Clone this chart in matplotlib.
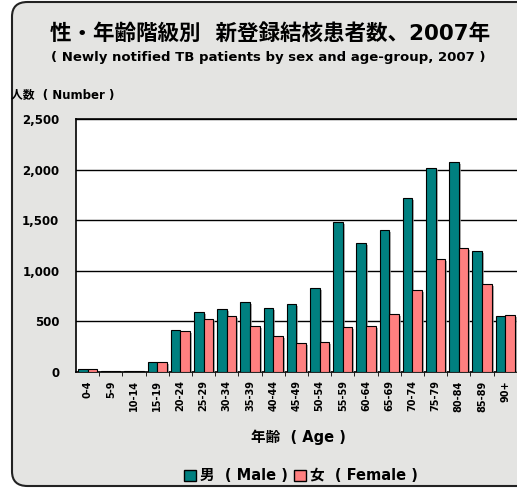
import matplotlib.pyplot as plt
import matplotlib.patheffects as pe
from matplotlib.patches import FancyBboxPatch, Patch
from matplotlib.ticker import FuncFormatter, FixedLocator

plt.rcParams['font.family'] = ['DejaVu Sans', 'Noto Sans CJK JP']

ages = ["0-4", "5-9", "10-14", "15-19", "20-24", "25-29", "30-34", "35-39", "40-44", "45-49",
        "50-54", "55-59", "60-64", "65-69", "70-74", "75-79", "80-84", "85-89", "90+"]
male = [27, 5, 5, 102, 415, 590, 619, 689, 636, 672, 827, 1479, 1271, 1400, 1719, 2016, 2072, 1193, 557]
female = [25, 5, 12, 100, 402, 527, 557, 455, 352, 283, 293, 445, 455, 573, 807, 1117, 1222, 870, 563]

male_color = "#008080"
female_color = "#FF8080"
bg = "#E4E4E2"

W, H = 517, 488
fig = plt.figure(figsize=(W / 100, H / 100), dpi=100)
fig.patch.set_facecolor("white")

# rounded frame with grey background
frame = FancyBboxPatch((12 / W, 2 / H), 520 / W, 484 / H,
                       boxstyle="round,pad=0,rounding_size=0.03",
                       transform=fig.transFigure, facecolor=bg, edgecolor="#222222",
                       linewidth=1.5, zorder=-5)
fig.patches.append(frame)

ax = fig.add_axes([76 / W, (H - 372) / H, 440.8 / W, 253 / H])
ax.set_facecolor("white")

x = list(range(len(ages)))
bw = 0.41
shadow = [pe.SimplePatchShadow(offset=(1.5, -1.5), shadow_rgbFace="#999999", alpha=0.8), pe.Normal()]
b1 = ax.bar([i - bw / 2 for i in x], male, width=bw, color=male_color, edgecolor="black", linewidth=0.8, zorder=3)
b2 = ax.bar([i + bw / 2 for i in x], female, width=bw, color=female_color, edgecolor="black", linewidth=0.8, zorder=3)
for b in list(b1) + list(b2):
    b.set_path_effects(shadow)

ax.set_xlim(-0.5, len(ages) - 0.5)
ax.set_ylim(0, 2500)
ax.set_yticks([0, 500, 1000, 1500, 2000, 2500])
ax.yaxis.set_major_formatter(FuncFormatter(lambda v, p: f"{int(v):,}"))
ax.yaxis.grid(True, color="black", linewidth=1.0, zorder=1)
ax.tick_params(axis="y", length=0, pad=12, labelsize=8.5)
for lab in ax.get_yticklabels():
    lab.set_fontweight("bold")

ax.set_xticks(x)
ax.set_xticklabels(ages, rotation=90, fontsize=7, fontweight="bold")
ax.tick_params(axis="x", which="major", length=0, pad=6)
ax.xaxis.set_minor_locator(FixedLocator([i + 0.5 for i in x[:-1]]))
ax.tick_params(axis="x", which="minor", length=3, direction="out", color="black")

for s in ["left", "top", "bottom"]:
    ax.spines[s].set_color("black")
    ax.spines[s].set_linewidth(1.2)
ax.spines["right"].set_visible(False)

fig.text(270 / W, 1 - 33 / H, "性・年齢階級別  新登録結核患者数、2007年",
         ha="center", va="center", fontsize=15.5, fontweight="bold")
fig.text(268 / W, 1 - 57 / H, "( Newly notified TB patients by sex and age-group, 2007 )",
         ha="center", va="center", fontsize=9.5, fontweight="bold")
fig.text(11 / W, 1 - 95 / H, "人数  ( Number )", ha="left", va="center", fontsize=8.5, fontweight="bold")
fig.text(298 / W, 1 - 437 / H, "年齢  ( Age )", ha="center", va="center", fontsize=10.5, fontweight="bold")

handles = [Patch(facecolor=male_color, edgecolor="black", label="男  ( Male )"),
           Patch(facecolor=female_color, edgecolor="black", label="女  ( Female )")]
leg = fig.legend(handles=handles, loc="center", bbox_to_anchor=(301 / W, 1 - 476 / H), ncol=2,
                 frameon=False, handlelength=0.8, handleheight=0.8, handletextpad=0.3,
                 columnspacing=0.4, prop={"size": 10.5, "weight": "bold"})

fig.savefig("out.png", dpi=100, facecolor=fig.get_facecolor())
